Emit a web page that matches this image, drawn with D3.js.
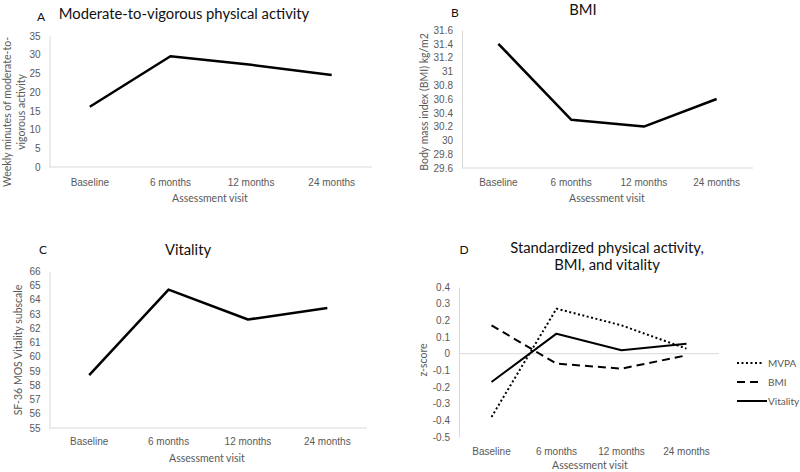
<!DOCTYPE html>
<html>
<head>
<meta charset="utf-8">
<script src="https://cdn.jsdelivr.net/npm/d3@7"></script>
<style>
  html, body { margin: 0; padding: 0; background: #fff; }
  svg { display: block; font-family: Lato, "Open Sans", sans-serif; }
  .tick text { fill: #595959; font-size: 10px; }
  .axis-title { fill: #595959; font-size: 10.5px; }
  .chart-title { fill: #111; font-size: 14.8px; }
  .panel-letter { fill: #111; font-size: 12px; }
  .legend text { fill: #595959; font-size: 10px; }
</style>
</head>
<body>
<svg id="chart" width="800" height="472"></svg>
<script>
// ---- data ----
const visits = ['Baseline', '6 months', '12 months', '24 months'];

const mvpa = [16.1, 29.6, 27.3, 24.6];
const bmi = [31.4, 30.3, 30.2, 30.6];
const vitality = [58.7, 64.7, 62.6, 63.4];

const zMvpa = [-0.38, 0.27, 0.17, 0.03];
const zBmi = [0.17, -0.06, -0.09, -0.01];
const zVitality = [-0.17, 0.12, 0.02, 0.06];

const ticksA = [0, 5, 10, 15, 20, 25, 30, 35];
const ticksB = [29.6, 29.8, 30, 30.2, 30.4, 30.6, 30.8, 31, 31.2, 31.4, 31.6];
const ticksC = [55, 56, 57, 58, 59, 60, 61, 62, 63, 64, 65, 66];
const ticksD = [-0.5, -0.4, -0.3, -0.2, -0.1, 0, 0.1, 0.2, 0.3, 0.4];

const svg = d3.select('#chart');

function drawPanel(p) {
  const g = svg.append('g');
  const x = d3.scaleBand().domain(visits).range([p.x0, p.x1]);
  const y = d3.scaleLinear().domain(p.domain).range([p.yBot, p.yTop]);

  // y axis: labels only, light axis line
  const yAxis = g.append('g')
    .attr('transform', `translate(${p.x0},0)`)
    .call(d3.axisLeft(y).tickValues(p.ticks).tickSize(0).tickPadding(9)
      .tickFormat(d => +d.toFixed(2) + ''));
  yAxis.select('.domain').attr('stroke', '#d9d9d9');
  yAxis.selectAll('.tick text').attr('font-family', null);

  // category axis line (crosses at zero in D), labels stay at the bottom
  const crossY = p.cross != null ? y(p.cross) : p.yBot;
  g.append('line')
    .attr('x1', p.x0).attr('x2', p.x1)
    .attr('y1', crossY).attr('y2', crossY)
    .attr('stroke', '#d9d9d9');
  const xAxis = g.append('g')
    .attr('transform', `translate(0,${p.yBot})`)
    .call(d3.axisBottom(x).tickSize(0).tickPadding(p.labelPad));
  xAxis.select('.domain').remove();
  xAxis.selectAll('.tick text').attr('font-family', null);

  const line = d3.line()
    .x((d, i) => x(visits[i]) + x.bandwidth() / 2)
    .y(d => y(d));

  p.series.forEach(s => {
    g.append('path')
      .datum(s.values)
      .attr('fill', 'none')
      .attr('stroke', '#000')
      .attr('stroke-width', s.width)
      .attr('stroke-dasharray', s.dash)
      .attr('stroke-linejoin', 'round')
      .attr('d', line);
  });

  // titles
  p.title.forEach((t, i) => {
    g.append('text').attr('class', 'chart-title')
      .attr('x', p.titleX).attr('y', p.titleY + i * 17)
      .attr('text-anchor', 'middle').attr('dominant-baseline', 'central')
      .text(t);
  });
  g.append('text').attr('class', 'panel-letter')
    .attr('x', p.letterX).attr('y', p.letterY)
    .attr('text-anchor', 'middle').attr('dominant-baseline', 'central')
    .text(p.letter);

  p.yTitle.forEach((t, i) => {
    g.append('text').attr('class', 'axis-title')
      .attr('transform', `translate(${p.yTitleX + i * 14},${p.yTitleY}) rotate(-90)`)
      .attr('text-anchor', 'middle').attr('dominant-baseline', 'central')
      .text(t);
  });
  g.append('text').attr('class', 'axis-title')
    .attr('x', p.xTitleX).attr('y', p.xTitleY)
    .attr('text-anchor', 'middle').attr('dominant-baseline', 'central')
    .text('Assessment visit');

  return g;
}

drawPanel({
  x0: 49.5, x1: 372, yTop: 36, yBot: 167, domain: [0, 35], ticks: ticksA, labelPad: 12,
  series: [{ values: mvpa, width: 2.5, dash: null }],
  title: ['Moderate-to-vigorous physical activity'], titleX: 184, titleY: 13,
  letter: 'A', letterX: 41, letterY: 16,
  yTitle: ['Weekly minutes of moderate-to-', 'vigorous activity'], yTitleX: 7, yTitleY: 112,
  xTitleX: 210, xTitleY: 198
});

drawPanel({
  x0: 462, x1: 753, yTop: 30, yBot: 168, domain: [29.6, 31.6], ticks: ticksB, labelPad: 11,
  series: [{ values: bmi, width: 2.5, dash: null }],
  title: ['BMI'], titleX: 583, titleY: 9,
  letter: 'B', letterX: 455, letterY: 12,
  yTitle: ['Body mass index (BMI) kg/m2'], yTitleX: 424, yTitleY: 102,
  xTitleX: 607, xTitleY: 198
});

drawPanel({
  x0: 49.5, x1: 367, yTop: 271, yBot: 428, domain: [55, 66], ticks: ticksC, labelPad: 10,
  series: [{ values: vitality, width: 2.5, dash: null }],
  title: ['Vitality'], titleX: 188, titleY: 249,
  letter: 'C', letterX: 43, letterY: 249,
  yTitle: ['SF-36 MOS Vitality subscale'], yTitleX: 18, yTitleY: 350,
  xTitleX: 207, xTitleY: 458
});

const seriesD = [
  { name: 'MVPA', values: zMvpa, width: 2, dash: '2,2.5' },
  { name: 'BMI', values: zBmi, width: 2, dash: '8,5' },
  { name: 'Vitality', values: zVitality, width: 2, dash: null }
];

drawPanel({
  x0: 459, x1: 719, yTop: 287, yBot: 437, domain: [-0.5, 0.4], ticks: ticksD, labelPad: 11,
  cross: 0,
  series: seriesD,
  title: ['Standardized physical activity,', 'BMI, and vitality'], titleX: 607, titleY: 247,
  letter: 'D', letterX: 464, letterY: 249,
  yTitle: ['z-score'], yTitleX: 423, yTitleY: 360,
  xTitleX: 590, xTitleY: 465
});

// legend for panel D
const legend = svg.append('g').attr('class', 'legend');
const rowY = d3.scalePoint().domain(seriesD.map(s => s.name)).range([363, 401]);
seriesD.forEach(s => {
  legend.append('line')
    .attr('x1', 737).attr('x2', s.name === 'Vitality' ? 767 : 763)
    .attr('y1', rowY(s.name)).attr('y2', rowY(s.name))
    .attr('stroke', '#000').attr('stroke-width', 2)
    .attr('stroke-dasharray', s.dash);
  legend.append('text')
    .attr('x', 768).attr('y', rowY(s.name))
    .attr('dominant-baseline', 'central')
    .text(s.name);
});
</script>
</body>
</html>
